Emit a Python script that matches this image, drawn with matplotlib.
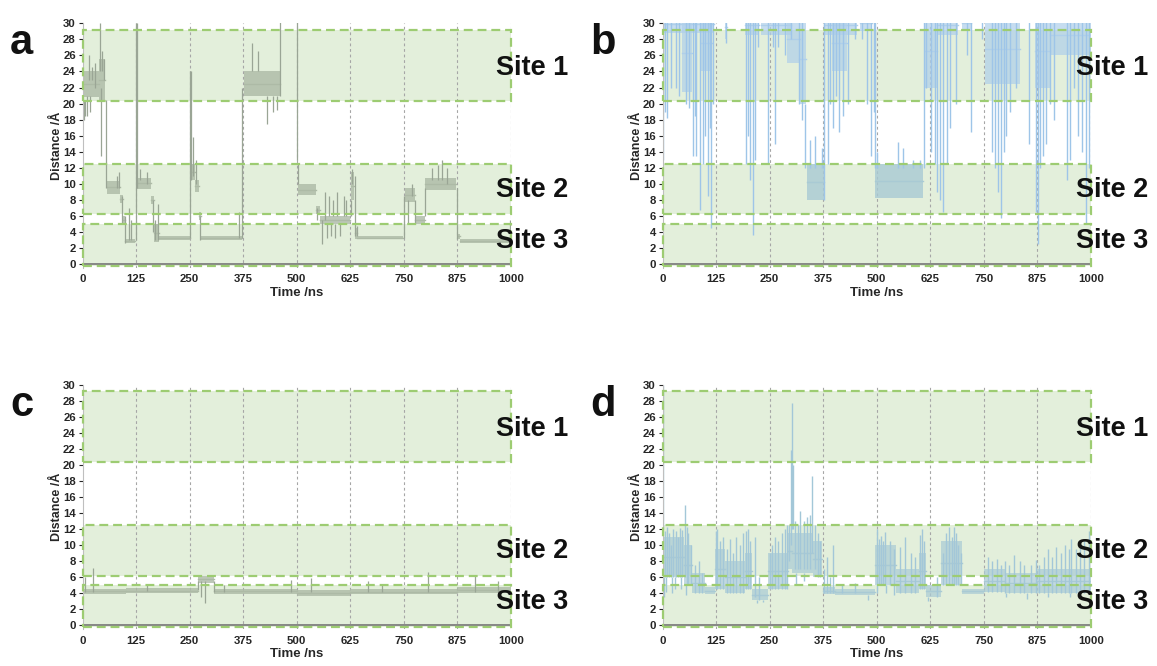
import matplotlib
matplotlib.use("Agg")
import matplotlib.pyplot as plt
from matplotlib.patches import Rectangle

plt.rcParams['font.family'] = ['Liberation Sans', 'DejaVu Sans']

# ---------------- data ----------------
x_ticks = [0, 125, 250, 375, 500, 625, 750, 875, 1000]
y_ticks = list(range(0, 31, 2))
site_names = ["Site 1", "Site 2", "Site 3"]
site_lo = [20.3, 6.2, -0.25]
site_hi = [29.2, 12.5, 5.0]
site_label_y = [24.4, 9.3, 2.9]

# Panel a: dwell segments (start, end, low, high) and spikes (time, from, to)
a_t0 = [0, 38, 56, 88, 94, 98, 126, 160, 166, 178, 253, 262, 272, 276, 376, 503, 545, 555, 627, 636, 642, 752, 776, 800, 876, 882]
a_t1 = [38, 52, 88, 94, 98, 122, 160, 166, 178, 250, 262, 272, 276, 372, 460, 545, 555, 625, 633, 642, 748, 776, 800, 872, 882, 998]
a_lo = [20.8, 20.5, 8.8, 7.6, 5.0, 2.6, 9.4, 7.5, 2.8, 3.0, 10.5, 9.0, 5.5, 3.0, 21.0, 8.6, 6.2, 5.0, 8.0, 3.2, 3.1, 7.8, 5.0, 9.2, 3.2, 2.7]
a_hi = [24.0, 25.5, 10.4, 8.6, 6.0, 3.1, 10.8, 8.5, 5.0, 3.5, 12.5, 10.5, 6.5, 3.5, 24.0, 10.0, 7.2, 6.0, 11.5, 4.5, 3.5, 9.5, 6.0, 10.8, 3.8, 3.1]
a_spk_t = [2, 6, 10, 14, 18, 22, 28, 40, 43, 46, 50, 54, 80, 85, 91, 99, 108, 112, 124, 126, 135, 150, 165, 170, 175,
           250, 252, 258, 265, 275, 365, 373, 395, 410, 430, 445, 455, 460, 500, 503, 548, 560, 565, 570, 575, 580,
           585, 590, 595, 600, 610, 615, 627, 630, 636, 640, 751, 760, 770, 776, 800, 815, 830, 840, 850, 874, 998]
a_spk_a = [20.5, 20.5, 21, 23, 21, 23, 22, 24, 22, 24, 23, 20.5, 9.5, 9.5, 8.5, 6.0, 3, 3, 3, 30, 10.5, 10, 8, 3, 3,
           3.3, 24, 11, 10, 6, 3.3, 3.3, 24, 24, 21, 21, 21, 21, 31, 10, 7, 5.5, 5.5, 5, 6, 5,
           6, 5, 6, 5, 6, 6, 6, 10, 11, 3.5, 3.3, 8, 8.5, 8, 6, 10.5, 10.5, 10.5, 10, 9.5, 3]
a_spk_b = [18.0, 18.5, 18.5, 26.0, 19.0, 24.5, 25.0, 30, 13.5, 26.5, 25.5, 9.5, 11.0, 11.5, 5.0, 2.6, 7.0, 5.5, 30, 9.5, 11.8, 11.5, 4.0, 5.5, 7.5,
           24.0, 10.5, 15.8, 13.0, 3, 6.5, 22, 27.5, 26.5, 17.5, 19, 19.2, 31, 13.0, 12.5, 5.5, 2.5, 9.0, 3.3, 8.5, 3.5,
           8.0, 3.3, 9.0, 3.5, 8.5, 8.0, 8.0, 11.8, 3.5, 4.8, 8.5, 5.0, 10.0, 5, 9.5, 12.0, 12.3, 13.0, 12.0, 3.2, 5.5]

# Panel b: bound dwell segments, dense excursion regions (reach from low up past 30) and spikes
b_t0 = [336, 497]
b_t1 = [376, 608]
b_lo = [8.0, 8.3]
b_hi = [12.5, 12.5]
b_cur_t0 = [0, 45, 90, 145, 192, 230, 290, 318, 378, 395, 460, 612, 640, 700, 752, 870, 905]
b_cur_t1 = [120, 68, 115, 150, 225, 300, 320, 335, 455, 430, 490, 640, 690, 720, 835, 905, 1000]
b_cur_lo = [28.8, 21.5, 24, 28, 28.5, 28.5, 25, 20, 28.5, 24, 29, 22, 28.5, 29, 22.5, 22, 26]
b_spk_t = [0, 5, 10, 20, 30, 37, 55, 62, 70, 75, 78, 88, 95, 99, 106, 110, 114, 118, 149, 195, 200, 205, 210, 215, 222,
           245, 258, 262, 270, 285, 300, 318, 325, 333, 345, 355, 372, 376, 386, 392, 398, 405, 413, 421, 433, 449,
           465, 478, 487, 493, 497, 500, 550, 562, 585, 600, 610, 616, 628, 636, 641, 647, 656, 664, 672, 686, 712,
           721, 745, 770, 776, 783, 790, 797, 803, 811, 826, 857, 872, 876, 882, 888, 895, 905, 915, 945, 952, 962,
           970, 980, 990, 996]
b_spk_a = [31, 31, 31, 31, 31, 31, 31, 31, 31, 31, 31, 31, 31, 31, 31, 31, 31, 31, 31, 31, 31, 31, 31, 31, 31,
           31, 31, 31, 31, 31, 31, 31, 31, 20, 12, 12, 12, 8, 31, 31, 31, 31, 31, 31, 31, 31,
           31, 31, 31, 31, 31, 12, 12, 12, 12, 12, 12, 31, 31, 31, 31, 31, 31, 31, 31, 31, 31,
           31, 31, 31, 31, 31, 31, 31, 31, 31, 31, 31, 31, 31, 31, 31, 31, 31, 31, 31, 31, 31,
           31, 31, 31, 31]
b_spk_b = [13.0, 19, 18.2, 22, 22, 21, 20, 19.5, 13.5, 18.5, 13.5, 6.7, 12.5, 16, 8.5, 17, 4.5, 20, 27.5, 12.5, 16, 10.5, 3.6, 13, 27,
           12.5, 27, 15, 27, 26, 28, 20, 18, 12, 15.5, 16, 14.5, 31, 12.5, 20, 17, 21, 16.5, 18.5, 20, 28,
           28, 20, 13.5, 19, 12, 14, 15.2, 14.5, 13, 13, 31, 22, 14, 12.5, 9, 8, 6.5, 12.5, 17, 20, 26,
           16.5, 28, 14, 12, 9, 5.7, 14, 16, 19, 22, 15, 6.5, 2.5, 12, 13.5, 15, 20, 18, 10.5, 13, 22,
           16, 14, 5.0, 12]

# Panel c
c_t0 = [0, 100, 270, 307, 500, 625, 875]
c_t1 = [100, 270, 307, 500, 625, 875, 1000]
c_lo = [3.9, 4.0, 5.3, 3.9, 3.7, 3.9, 4.0]
c_hi = [4.6, 4.7, 6.2, 4.6, 4.4, 4.5, 4.8]
c_spk_t = [5, 24, 150, 270, 276, 285, 307, 330, 487, 534, 666, 700, 807, 916, 970]
c_spk_a = [4.2, 4.2, 4.3, 4.4, 5.5, 5.5, 5.5, 4.2, 4.2, 4.2, 4.2, 4.2, 4.2, 4.2, 4.2]
c_spk_b = [6.0, 7.2, 5.0, 5.5, 3.5, 2.8, 4.2, 5.0, 5.7, 5.9, 5.5, 5.0, 6.7, 6.3, 5.5]

# Panel d
d_t0 = [0, 50, 68, 98, 122, 145, 192, 208, 247, 292, 302, 350, 375, 403, 496, 545, 598, 615, 650, 700, 750, 800, 875]
d_t1 = [50, 68, 98, 122, 145, 192, 208, 247, 292, 302, 350, 373, 403, 496, 545, 598, 615, 650, 700, 750, 800, 875, 1000]
d_lo = [6.0, 5.0, 4.0, 3.9, 4.5, 4.0, 4.5, 3.2, 4.5, 7.0, 6.5, 6.0, 3.9, 3.8, 5.0, 4.0, 4.5, 3.6, 5.0, 3.9, 4.2, 4.0, 4.0]
d_hi = [11.0, 10.0, 6.5, 4.8, 9.5, 8.0, 9.0, 4.5, 9.0, 11.5, 11.5, 10.5, 4.8, 4.6, 10.0, 7.0, 9.0, 5.0, 10.5, 4.6, 7.0, 6.5, 7.0]
d_spk_t = [0, 5, 10, 15, 20, 25, 30, 35, 40, 45, 51, 56, 60, 65, 3, 8, 22, 28, 42, 55, 75, 85, 92,
           125, 128, 133, 140, 150, 158, 165, 172, 180, 188, 195, 200, 205, 215, 220, 225, 235,
           250, 255, 262, 270, 278, 285, 290, 296, 300, 302, 304, 310, 315, 321, 330, 338, 345, 349, 355, 362, 368,
           311, 331, 378, 385, 392, 398, 420, 450, 480, 500, 505, 510, 515, 520, 530, 540, 501, 521, 541,
           555, 567, 580, 590, 600, 606, 611, 620, 640, 655, 662, 670, 675, 680, 685, 690, 697,
           760, 770, 780, 790, 800, 810, 820, 835, 845, 860, 873, 880, 890, 900, 910, 920, 930, 940, 950, 955,
           965, 975, 985, 995, 801, 850, 901, 951]
d_spk_a = [30, 6, 6, 6, 6, 6, 6, 6, 6, 6, 6, 5, 5, 5, 6, 6, 6, 6, 6, 5, 4, 4, 4,
           4.5, 4.5, 4.5, 4.5, 4, 4, 4, 4, 4, 4, 4.5, 4.5, 4.5, 3.5, 3.2, 3.2, 3.2,
           4.5, 4.5, 4.5, 4.5, 4.5, 4.5, 4.5, 8, 10, 12, 12, 7, 7, 7, 7, 7, 7, 9, 7, 6, 6,
           6.5, 6.5, 4, 4, 4, 4, 4, 4, 3.8, 5, 5, 5, 5, 5, 5, 5, 5, 5, 5,
           4, 4, 4, 4, 4.5, 4.5, 4.5, 3.6, 3.6, 5, 5, 5, 5, 5, 5, 5, 5,
           4.2, 4.2, 4.2, 4.2, 4, 4, 4, 4, 4, 4, 4, 4, 4, 4, 4, 4, 4, 4, 4, 4,
           4, 4, 4, 4, 4, 4, 4, 4]
d_spk_b = [12, 11.8, 12.2, 11.5, 10.0, 12.0, 11.8, 11.0, 12.1, 11.9, 15.0, 12.2, 11.5, 10.0, 3.5, 4.2, 4.0, 4.5, 4.5, 3.8, 7.5, 8.0, 6.5,
           11.8, 12.0, 10.5, 11.0, 9.5, 10.8, 9.0, 11.0, 10.0, 11.5, 11.8, 12.0, 10.5, 11.0, 2.8, 6.0, 2.9,
           9.0, 10.0, 11.0, 10.5, 11.5, 12.0, 12.5, 12.5, 21.9, 27.7, 20.0, 13.0, 12.5, 14.3, 13.0, 13.5, 13.8, 18.6, 12.5, 11.5, 10.5,
           5.0, 5.5, 7.0, 8.5, 6.0, 10.0, 5.2, 5.3, 3.2, 12.0, 10.8, 11.2, 10.5, 11.6, 10.5, 9.5, 4.0, 4.0, 3.8,
           9.8, 11.0, 9.0, 8.5, 11.3, 12.0, 10.5, 3.0, 6.0, 9.0, 11.5, 12.3, 11.0, 12.2, 11.5, 10.0, 9.0,
           8.5, 8.0, 8.3, 7.5, 8.0, 7.5, 8.8, 8.0, 7.5, 7.5, 8.2, 7.5, 8.5, 9.5, 8.5, 9.8, 9.0, 10.0, 9.5, 10.8,
           9.5, 10.3, 10.5, 11.8, 3.5, 3.3, 3.5, 3.6]

# ---------------- styling ----------------
BAND_FILL = '#E3EFDB'
BAND_EDGE = '#9DCC72'
GRID = '#A6A6A6'

fig = plt.figure(figsize=(11.57, 6.66), dpi=100)

W, H = 1157, 666
ax_w = 428 / W
ax_h = (241.0 + 3.2) / H
positions = {
    'a': (82.7 / W, 1 - 267.5 / H),
    'b': (662.7 / W, 1 - 267.5 / H),
    'c': (82.7 / W, 1 - 628.7 / H),
    'd': (662.7 / W, 1 - 628.7 / H),
}


def setup(ax, letter):
    ax.set_xlim(0, 1000)
    ax.set_ylim(-0.4, 30)
    for s in ['top', 'right', 'bottom']:
        ax.spines[s].set_visible(False)
    ax.spines['left'].set_color('#BFBFBF')
    ax.spines['left'].set_linewidth(0.8)
    ax.set_xticks(x_ticks)
    ax.set_yticks(y_ticks)
    ax.tick_params(axis='both', labelsize=8.2, colors='#262626', length=3, width=0.8, pad=2)
    ax.tick_params(axis='x', length=0, pad=5)
    for lab in ax.get_xticklabels() + ax.get_yticklabels():
        lab.set_fontweight('bold')
    ax.set_xlabel('Time /ns', fontsize=9.5, fontweight='bold', labelpad=2, color='#262626')
    ax.set_ylabel('Distance /Å', fontsize=9, fontweight='bold', labelpad=0, color='#262626')
    for g in x_ticks[1:]:
        ax.axvline(g, color=GRID, lw=0.8, ls=(0, (2.5, 2.5)), zorder=1)
    for lo, hi in zip(site_lo, site_hi):
        ax.add_patch(Rectangle((0, lo), 1000, hi - lo, facecolor=BAND_FILL, edgecolor='none', zorder=0))
    ax.axhline(0, color='#7F7F7F', lw=1.3, zorder=4)
    ax.text(-0.17, 1.0, letter, transform=ax.transAxes, fontsize=30, fontweight='bold',
            va='top', ha='left', color='#111111')
    for name, yy in zip(site_names, site_label_y):
        ax.text(965, yy, name, fontsize=19.5, fontweight='bold', va='center', ha='left',
                clip_on=False, zorder=6, color='#111111')


def borders(ax):
    for lo, hi in zip(site_lo, site_hi):
        ax.add_patch(Rectangle((0, lo), 1000, hi - lo, facecolor='none', edgecolor=BAND_EDGE,
                               lw=1.6, ls=(0, (4, 2.2)), zorder=5, clip_on=False))


def segments(ax, t0, t1, lo, hi, color, alpha=0.8):
    for s, e, l, h in zip(t0, t1, lo, hi):
        ax.fill_between([s, e], [l, l], [h, h], color=color, lw=0, alpha=alpha, zorder=2)
        ax.plot([s, e], [(l + h) / 2, (l + h) / 2], color=color, lw=1.0, alpha=1.0, zorder=2)


axes = {}
for k in 'abcd':
    axes[k] = fig.add_axes([positions[k][0], positions[k][1], ax_w, ax_h])
    setup(axes[k], k)

GRAY = '#ADBAA6'
GRAY_D = '#9AA595'
BLUE = '#9EC5E8'
TEAL = '#A9CAD4'

ax = axes['a']
segments(ax, a_t0, a_t1, a_lo, a_hi, GRAY)
ax.vlines(a_spk_t, a_spk_a, a_spk_b, color=GRAY_D, lw=0.9, zorder=2)

ax = axes['b']
segments(ax, b_cur_t0, b_cur_t1, b_cur_lo, [31] * len(b_cur_t0), '#AFCFEA', alpha=0.7)
segments(ax, b_t0, b_t1, b_lo, b_hi, TEAL)
ax.vlines(b_spk_t, b_spk_a, b_spk_b, color=BLUE, lw=1.0, zorder=2)

ax = axes['c']
segments(ax, c_t0, c_t1, c_lo, c_hi, GRAY)
ax.vlines(c_spk_t, c_spk_a, c_spk_b, color=GRAY_D, lw=0.9, zorder=2)

ax = axes['d']
segments(ax, d_t0, d_t1, d_lo, d_hi, TEAL, alpha=0.7)
ax.vlines(d_spk_t, d_spk_a, d_spk_b, color='#A3C7D8', lw=1.0, zorder=2)

for k in 'abcd':
    borders(axes[k])

fig.savefig('out.png', dpi=100)
